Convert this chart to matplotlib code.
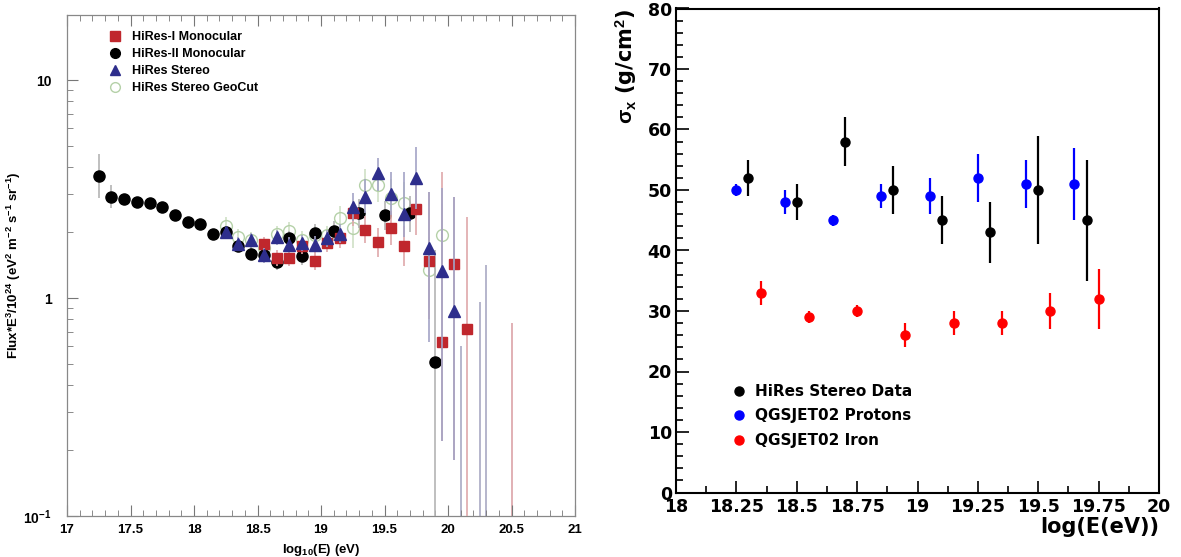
import matplotlib
matplotlib.use("Agg")
import matplotlib.pyplot as plt
from matplotlib.ticker import MultipleLocator, FixedLocator
from matplotlib.lines import Line2D
import numpy as np

plt.rcParams['mathtext.fontset'] = 'custom'
plt.rcParams['mathtext.rm'] = 'Liberation Sans:bold'
plt.rcParams['mathtext.it'] = 'Liberation Sans:bold'
plt.rcParams['mathtext.bf'] = 'Liberation Sans:bold'

# ---------------- Left panel data (HiRes spectrum) ----------------
mono2_E = [17.25, 17.35, 17.45, 17.55, 17.65, 17.75, 17.85, 17.95, 18.05, 18.15,
           18.25, 18.35, 18.45, 18.55, 18.65, 18.75, 18.85, 18.95,
           19.1, 19.3, 19.5, 19.7, 19.9]
mono2_v = [3.63, 2.92, 2.85, 2.77, 2.73, 2.63, 2.40, 2.23, 2.18, 1.97,
           2.00, 1.73, 1.60, 1.57, 1.47, 1.88, 1.56, 1.98,
           2.03, 2.45, 2.40, 2.45, 0.507]
mono2_lo = [2.87, 2.58, 2.72, 2.66, 2.62, 2.52, 2.30, 2.13, 2.08, 1.87,
            1.90, 1.64, 1.50, 1.46, 1.35, 1.74, 1.42, 1.80,
            1.82, 2.10, 2.05, 2.00, 0.05]
mono2_hi = [4.58, 3.30, 2.99, 2.89, 2.85, 2.75, 2.50, 2.34, 2.28, 2.07,
            2.10, 1.83, 1.71, 1.68, 1.60, 2.04, 1.72, 2.18,
            2.26, 2.85, 2.80, 2.95, 1.66]

mono1_E = [18.55, 18.65, 18.75, 18.85, 18.95, 19.05, 19.15, 19.25, 19.35, 19.45,
           19.55, 19.65, 19.75, 19.85, 19.95, 20.05, 20.15]
mono1_v = [1.77, 1.53, 1.53, 1.74, 1.48, 1.79, 1.88, 2.45, 2.06, 1.81,
           2.10, 1.73, 2.55, 1.48, 0.63, 1.43, 0.72]
mono1_lo = [1.64, 1.40, 1.40, 1.60, 1.35, 1.62, 1.70, 2.15, 1.78, 1.55,
            1.75, 1.40, 1.95, 0.80, 0.22, 0.18, 0.05]
mono1_hi = [1.90, 1.66, 1.66, 1.88, 1.62, 1.97, 2.08, 2.80, 2.38, 2.10,
            2.50, 2.15, 3.30, 3.07, 3.80, 2.92, 2.36]

stereo_E = [18.25, 18.35, 18.45, 18.55, 18.65, 18.75, 18.85, 18.95, 19.05, 19.15,
            19.25, 19.35, 19.45, 19.55, 19.65, 19.75, 19.85, 19.95, 20.05]
stereo_v = [2.00, 1.77, 1.85, 1.57, 1.90, 1.75, 1.79, 1.76, 1.88, 1.97,
            2.62, 2.92, 3.73, 3.00, 2.42, 3.54, 1.69, 1.33, 0.875]
stereo_lo = [1.88, 1.65, 1.72, 1.45, 1.76, 1.62, 1.65, 1.62, 1.72, 1.78,
             2.25, 2.45, 3.10, 2.40, 1.90, 2.55, 0.63, 0.22, 0.18]
stereo_hi = [2.12, 1.90, 1.98, 1.70, 2.05, 1.90, 1.94, 1.92, 2.05, 2.18,
             3.02, 3.50, 4.37, 3.79, 3.77, 4.94, 3.07, 3.20, 2.92]

geo_E = [18.25, 18.35, 18.45, 18.55, 18.65, 18.75, 18.85, 18.95, 19.05, 19.15,
         19.25, 19.35, 19.45, 19.55, 19.65, 19.85, 19.95]
geo_v = [2.15, 1.91, 1.84, 1.70, 1.96, 2.03, 1.85, 1.95, 1.94, 2.33,
         2.09, 3.30, 3.30, 2.87, 2.74, 1.34, 1.95]
geo_lo = [1.95, 1.75, 1.68, 1.55, 1.78, 1.84, 1.68, 1.76, 1.74, 2.05,
          1.70, 2.75, 2.75, 2.30, 2.15, 0.90, 1.30]
geo_hi = [2.36, 2.08, 2.01, 1.86, 2.15, 2.23, 2.03, 2.15, 2.15, 2.65,
          2.55, 3.90, 3.90, 3.50, 3.40, 1.90, 2.70]

limit_E = [20.10, 20.25, 20.30, 20.50]
limit_top = [0.60, 0.96, 1.42, 0.77]
limit_col = ['#a9a9c4', '#a9a9c4', '#a9a9c4', '#dba3a8']

left_labels = ['HiRes-I Monocular', 'HiRes-II Monocular', 'HiRes Stereo', 'HiRes Stereo GeoCut']
left_xticks = [17, 17.5, 18, 18.5, 19, 19.5, 20, 20.5, 21]
left_xticklabels = ['17', '17.5', '18', '18.5', '19', '19.5', '20', '20.5', '21']

# ---------------- Right panel data (sigma Xmax) ----------------
data_E = [18.30, 18.50, 18.70, 18.90, 19.10, 19.30, 19.50, 19.70]
data_s = [52, 48, 58, 50, 45, 43, 50, 45]
data_e = [3, 3, 4, 4, 4, 5, 9, 10]

prot_E = [18.25, 18.45, 18.65, 18.85, 19.05, 19.25, 19.45, 19.65]
prot_s = [50, 48, 45, 49, 49, 52, 51, 51]
prot_e = [1, 2, 0.9, 2, 3, 4, 4, 6]

iron_E = [18.35, 18.55, 18.75, 18.95, 19.15, 19.35, 19.55, 19.75]
iron_s = [33, 29, 30, 26, 28, 28, 30, 32]
iron_e = [2, 1, 1, 2, 2, 2, 3, 5]

right_labels = ['HiRes Stereo Data', 'QGSJET02 Protons', 'QGSJET02 Iron']
right_xticks = [18, 18.25, 18.5, 18.75, 19, 19.25, 19.5, 19.75, 20]
right_xticklabels = ['18', '18.25', '18.5', '18.75', '19', '19.25', '19.5', '19.75', '20']

# ---------------- Figure ----------------
fig = plt.figure(figsize=(11.81, 5.57), dpi=100)

# Left axes
axL = fig.add_axes([67/1181, 1-516/557, (575-67)/1181, (516-15)/557])
axL.set_yscale('log')
axL.set_xlim(17, 21)
axL.set_ylim(0.1, 19.9)

lfont = dict(family='Liberation Sans', weight='bold')

def err(v, lo, hi):
    v = np.asarray(v); lo = np.asarray(lo); hi = np.asarray(hi)
    return np.vstack([v - lo, hi - v])

axL.errorbar(geo_E, geo_v, yerr=err(geo_v, geo_lo, geo_hi), fmt='o', ms=8.5,
             mfc='none', mec='#b5d1a8', mew=1.0, ecolor='#cfe0c6', elinewidth=1.2,
             capsize=0, zorder=2)
axL.vlines(limit_E, 0.05, limit_top, colors=limit_col, lw=1.2, zorder=1)
axL.errorbar(mono2_E, mono2_v, yerr=err(mono2_v, mono2_lo, mono2_hi), fmt='o', ms=8,
             mfc='black', mec='black', ecolor='#b4b4b4', elinewidth=1.2, capsize=0, zorder=3)
axL.errorbar(mono1_E, mono1_v, yerr=err(mono1_v, mono1_lo, mono1_hi), fmt='s', ms=7,
             mfc='#c0272d', mec='#c0272d', ecolor='#dfa8aa', elinewidth=1.2, capsize=0, zorder=4)
axL.errorbar(stereo_E, stereo_v, yerr=err(stereo_v, stereo_lo, stereo_hi), fmt='^', ms=8,
             mfc='#2e2e8c', mec='#2e2e8c', ecolor='#a3a3c6', elinewidth=1.2, capsize=0, zorder=5)

axL.set_xticks(left_xticks)
axL.set_xticklabels(left_xticklabels, fontsize=9.5, **lfont)
axL.xaxis.set_minor_locator(MultipleLocator(0.1))
axL.yaxis.set_major_locator(FixedLocator([0.1, 1, 10]))
axL.set_yticklabels([r'10$^{\mathbf{-1}}$', '1', '10'], fontsize=10, **lfont)
axL.tick_params(axis='both', which='both', direction='in', top=True, right=False,
                colors='#777777', labelcolor='black')
axL.tick_params(axis='both', which='major', length=8, width=0.8)
axL.tick_params(axis='both', which='minor', length=4, width=0.6)
axL.tick_params(axis='x', which='major', pad=6)
axL.tick_params(axis='y', which='major', pad=11)
for s in axL.spines.values():
    s.set_color('#888888')
    s.set_linewidth(0.9)
axL.set_xlabel(r'log$_{10}$(E) (eV)', fontsize=9.5, labelpad=4, **lfont)
axL.set_ylabel(r'Flux*E$^3$/10$^{24}$ (eV$^2$ m$^{-2}$ s$^{-1}$ sr$^{-1}$)', fontsize=9.5, **lfont)
axL.yaxis.set_label_coords(-0.086, 0.5)

hL = [Line2D([], [], ls='none', marker='s', ms=7, mfc='#c0272d', mec='#c0272d'),
      Line2D([], [], ls='none', marker='o', ms=7, mfc='black', mec='black'),
      Line2D([], [], ls='none', marker='^', ms=7, mfc='#2e2e8c', mec='#2e2e8c'),
      Line2D([], [], ls='none', marker='o', ms=7, mfc='none', mec='#b5d1a8')]
axL.legend(hL, left_labels, loc='upper left', bbox_to_anchor=(0.063, 0.985),
           frameon=False, prop=dict(family='Liberation Sans', weight='bold', size=9),
           handletextpad=0.7, labelspacing=0.4, handlelength=1.2, borderpad=0.2)

# Right axes
axR = fig.add_axes([676/1181, 1-492.5/557, (1159-676)/1181, (492.5-8.5)/557])
axR.set_xlim(18, 20)
axR.set_ylim(0, 80)
axR.errorbar(data_E, data_s, yerr=data_e, fmt='o', ms=6.5, color='black', elinewidth=1.6,
             capsize=0, zorder=3)
axR.errorbar(prot_E, prot_s, yerr=prot_e, fmt='o', ms=6.5, color='#0000ff', elinewidth=1.6,
             capsize=0, zorder=3)
axR.errorbar(iron_E, iron_s, yerr=iron_e, fmt='o', ms=6.5, color='#ff0000', elinewidth=1.6,
             capsize=0, zorder=3)

rfont = dict(family='DejaVu Sans', weight='bold')
axR.set_xticks(right_xticks)
axR.set_xticklabels(right_xticklabels, fontsize=12.5, **rfont)
axR.xaxis.set_minor_locator(MultipleLocator(0.125))
axR.set_yticks(list(range(0, 81, 10)))
axR.set_yticklabels([str(v) for v in range(0, 81, 10)], fontsize=12.5, **rfont)
axR.yaxis.set_minor_locator(MultipleLocator(2))
axR.tick_params(axis='both', which='both', direction='in', top=False, right=False, width=1.2)
axR.tick_params(axis='both', which='major', length=9)
axR.tick_params(axis='both', which='minor', length=5)
axR.tick_params(axis='x', which='major', pad=4)
axR.tick_params(axis='y', which='major', pad=3)
for s in axR.spines.values():
    s.set_linewidth(1.5)
axR.set_xlabel('log(E(eV))', loc='right', fontsize=15, labelpad=1, **rfont)
axR.set_ylabel(r'$\sigma_\mathbf{x}$ (g/cm$^\mathbf{2}$)', loc='top', fontsize=15, labelpad=6, **rfont)

hR = [Line2D([], [], ls='none', marker='o', ms=6.5, color='black'),
      Line2D([], [], ls='none', marker='o', ms=6.5, color='#0000ff'),
      Line2D([], [], ls='none', marker='o', ms=6.5, color='#ff0000')]
axR.legend(hR, right_labels, loc='lower left', bbox_to_anchor=(0.09, 0.07), frameon=False,
           prop=dict(family='DejaVu Sans', weight='bold', size=11),
           handletextpad=0.45, labelspacing=0.62, handlelength=1.2, borderpad=0.2)

fig.savefig('out.png', dpi=100)
